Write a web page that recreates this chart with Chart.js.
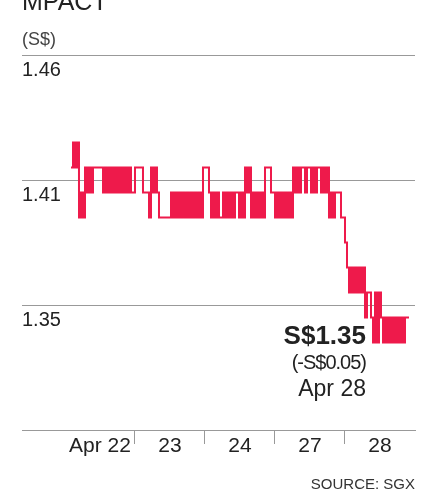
<!DOCTYPE html>
<html>
<head>
<meta charset="utf-8">
<script src="https://cdn.jsdelivr.net/npm/chart.js@4"></script>
<style>
  body { margin: 0; background: #fff; font-family: "Liberation Sans", Arial, sans-serif; }
  #wrap { position: relative; width: 430px; height: 491px; overflow: hidden; }
  #wrap div { position: absolute; line-height: 1; white-space: nowrap; }
  #title { left: 22px; top: -11px; font-size: 25px; color: #222; }
  #unit { left: 22px; top: 30px; font-size: 18px; color: #444; }
  #source { right: 15px; top: 476px; font-size: 15px; color: #333; }
  #note { right: 64px; top: 322px; text-align: right; color: #222; }
  #note .price { position: static; font-size: 26px; font-weight: bold; }
  #note .chg { position: static; font-size: 20px; letter-spacing: -1px; margin-top: 4px; }
  #note .day { position: static; font-size: 23px; margin-top: 5px; }
</style>
</head>
<body>
<div id="wrap">
  <canvas id="chart" width="430" height="491"></canvas>
  <div id="title">MPACT</div>
  <div id="unit">(S$)</div>
  <div id="note">
    <div class="price">S$1.35</div>
    <div class="chg">(-S$0.05)</div>
    <div class="day">Apr 28</div>
  </div>
  <div id="source">SOURCE: SGX</div>
</div>
<script>
// trading days on the x axis
const days = ["Apr 22", "23", "24", "27", "28"];
const slotsPerDay = 35;
const firstSlot = [3, 0, 0, 0, 0];

// intraday prices (S$), one per slot
const apr22 = [1.41, 1.41, 1.42, 1.41, 1.42, 1.39, 1.40, 1.39, 1.41, 1.40, 1.41, 1.40, 1.41, 1.41, 1.41, 1.41,
  1.41, 1.40, 1.41, 1.40, 1.41, 1.40, 1.41, 1.40, 1.41, 1.40, 1.41, 1.40, 1.41, 1.40, 1.41, 1.40];
const apr23 = [1.40, 1.41, 1.41, 1.41, 1.41, 1.40, 1.40, 1.40, 1.39, 1.41, 1.40, 1.41, 1.40, 1.39, 1.39, 1.39,
  1.39, 1.39, 1.39, 1.40, 1.39, 1.40, 1.39, 1.40, 1.39, 1.40, 1.39, 1.40, 1.39, 1.40, 1.39, 1.40, 1.39, 1.40, 1.39];
const apr24 = [1.41, 1.41, 1.41, 1.40, 1.39, 1.40, 1.39, 1.40, 1.39, 1.39, 1.40, 1.39, 1.40, 1.39, 1.40, 1.39,
  1.40, 1.40, 1.39, 1.40, 1.39, 1.41, 1.40, 1.41, 1.39, 1.40, 1.39, 1.40, 1.39, 1.40, 1.39, 1.41, 1.41, 1.41, 1.40];
const apr27 = [1.40, 1.39, 1.40, 1.39, 1.40, 1.39, 1.40, 1.39, 1.40, 1.39, 1.41, 1.40, 1.41, 1.40, 1.41, 1.41,
  1.40, 1.41, 1.41, 1.40, 1.41, 1.40, 1.41, 1.41, 1.40, 1.41, 1.40, 1.41, 1.39, 1.40, 1.39, 1.40, 1.40, 1.40, 1.39];
const apr28 = [1.39, 1.38, 1.37, 1.36, 1.37, 1.36, 1.37, 1.36, 1.37, 1.36, 1.37, 1.35, 1.36, 1.36, 1.35, 1.34,
  1.36, 1.34, 1.36, 1.35, 1.34, 1.35, 1.34, 1.35, 1.34, 1.35, 1.34, 1.35, 1.34, 1.35, 1.34, 1.35, 1.35];

// y axis gridlines and their printed labels
const yTickValues = [1.355, 1.405, 1.455];
const yTickLabels = ["1.35", "1.41", "1.46"];

const prices = [apr22, apr23, apr24, apr27, apr28];
const points = [];
prices.forEach((list, d) => {
  list.forEach((v, k) => {
    points.push({ x: d + (firstSlot[d] + k) / slotsPerDay, y: v });
  });
});

const font = { family: "'Liberation Sans', Arial, sans-serif" };

new Chart(document.getElementById("chart"), {
  type: "line",
  data: {
    datasets: [{
      data: points,
      borderColor: "#ee1a4b",
      borderWidth: 2,
      pointRadius: 0,
      stepped: "after",
      fill: false,
    }],
  },
  options: {
    responsive: false,
    animation: false,
    devicePixelRatio: 1,
    layout: { padding: { left: 22, right: 15, top: 55, bottom: 0 } },
    plugins: { legend: { display: false }, tooltip: { enabled: false } },
    scales: {
      x: {
        type: "linear",
        min: -0.614,
        max: days.length,
        afterBuildTicks: (scale) => {
          const ticks = [];
          days.forEach((d, i) => {
            if (i > 0) ticks.push({ value: i });
            ticks.push({ value: i + 0.5 });
          });
          scale.ticks = ticks;
        },
        afterFit: (scale) => { scale.height = 61; },
        grid: {
          drawOnChartArea: false,
          drawTicks: true,
          tickLength: 14,
          color: (ctx) => (ctx.tick && Number.isInteger(ctx.tick.value) ? "#999" : "rgba(0,0,0,0)"),
        },
        border: { display: true, color: "#999", width: 1 },
        ticks: {
          autoSkip: false,
          maxRotation: 0,
          padding: -10,
          color: "#222",
          font: { ...font, size: 21 },
          callback: (v) => (Number.isInteger(v) ? "" : days[Math.floor(v)]),
        },
      },
      y: {
        min: 1.305,
        max: 1.455,
        afterBuildTicks: (scale) => {
          scale.ticks = yTickValues.map((v) => ({ value: v }));
        },
        afterFit: (scale) => { scale.width = 0; },
        grid: { color: "#999", lineWidth: 1, drawTicks: false },
        border: { display: false },
        ticks: {
          mirror: true,
          padding: 0,
          labelOffset: 15,
          color: "#222",
          font: { ...font, size: 20 },
          callback: (v, i) => yTickLabels[i],
        },
      },
    },
  },
});
</script>
</body>
</html>
